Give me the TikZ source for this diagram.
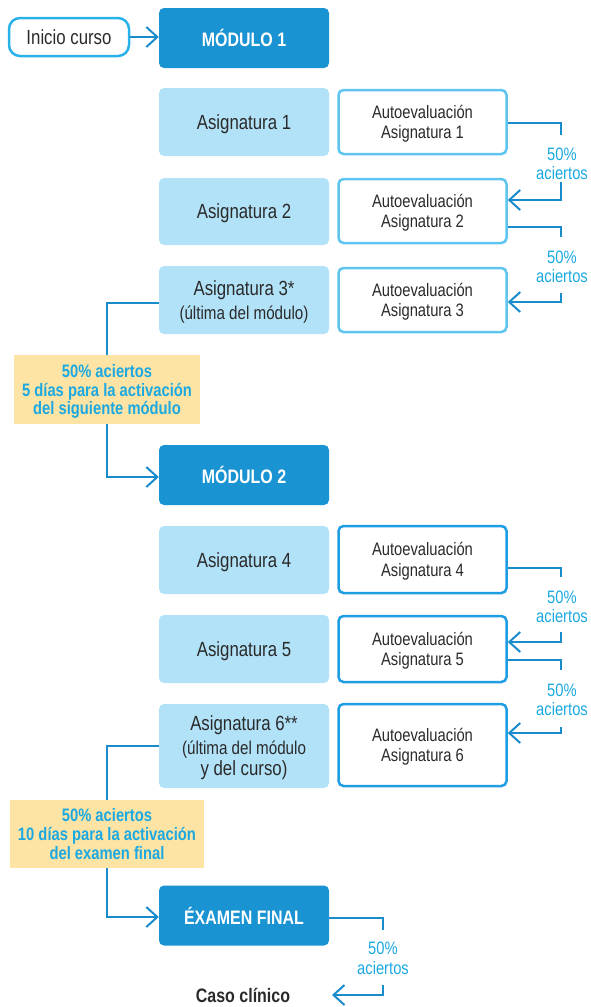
\documentclass[tikz,border=0pt]{standalone}
\usepackage{fontspec}
\setmainfont{Liberation Sans}[FakeStretch=0.82]
\usetikzlibrary{arrows.meta,calc}
\definecolor{modblue}{HTML}{1A93D3}
\definecolor{lightfill}{HTML}{B2E2F8}
\definecolor{lightedge}{HTML}{5EC5F0}
\definecolor{midedge}{HTML}{1E9DE2}
\definecolor{startedge}{HTML}{29B2EA}
\definecolor{linkblue}{HTML}{1A8BCB}
\definecolor{cyantext}{HTML}{1CA9E2}
\definecolor{yellowfill}{HTML}{FDE3A4}
\definecolor{darktext}{HTML}{2A2A2A}
\newcommand\fsz[2]{\fontsize{#1}{#2}\selectfont}
\begin{document}
\begin{tikzpicture}[x=1pt,y=-1pt,
  modbox/.style={fill=modblue, rounded corners=5pt, minimum width=170pt, minimum height=60pt, inner sep=0pt, text=white, font=\fsz{19.5}{22}\bfseries},
  asig/.style={fill=lightfill, rounded corners=5pt, minimum width=170pt, inner sep=0pt, align=center, text depth=0pt, text=darktext, font=\fsz{20.5}{24}},
  evalbox/.style={draw=#1, line width=2.5pt, rounded corners=5pt, fill=white, minimum width=168pt, inner sep=0pt, align=center, text depth=0pt, text=darktext, font=\fsz{18}{20.5}},
  note/.style={fill=yellowfill, inner sep=0pt, align=center, text depth=0pt, text=cyantext, font=\fsz{18}{18.8}\bfseries},
  pct/.style={text=cyantext, align=center, inner sep=0pt, font=\fsz{18}{19.5}},
  link/.style={draw=linkblue, line width=2pt},
  tip/.style={-{Straight Barb[length=11pt,width=20pt]}}
]
\useasboundingbox (0,0) rectangle (590,1007);

% ---- Module 1
\node[draw=startedge, line width=2.5pt, rounded corners=11pt, minimum width=120pt, minimum height=38pt, inner sep=0pt, text=darktext, font=\fsz{20.5}{24}] (inicio) at (69,37) {Inicio curso};
\node[modbox] (m1) at (244,38) {MÓDULO 1};

\node[asig, minimum height=68pt] (a1) at (244,122) {Asignatura 1};
\node[asig, minimum height=67pt] (a2) at (244,211.5) {Asignatura 2};
\node[asig, minimum height=68pt] (a3) at (244,300) {Asignatura 3*\\[0pt]\fsz{18.5}{20}(última del módulo)};

\node[evalbox=lightedge, minimum height=64pt] (e1) at (422.5,122) {Autoevaluación\\Asignatura 1};
\node[evalbox=lightedge, minimum height=64pt] (e2) at (422.5,211) {Autoevaluación\\Asignatura 2};
\node[evalbox=lightedge, minimum height=64pt] (e3) at (422.5,300) {Autoevaluación\\Asignatura 3};

\node[note, minimum width=186pt, minimum height=69pt] (y1) at (107,389.5) {50\% aciertos\\5 días para la activación\\del siguiente módulo};

% ---- Module 2
\node[modbox] (m2) at (244,475) {MÓDULO 2};

\node[asig, minimum height=68pt] (a4) at (244,560) {Asignatura 4};
\node[asig, minimum height=68pt] (a5) at (244,649) {Asignatura 5};
\node[asig, minimum height=84pt] (a6) at (244,746) {Asignatura 6**\\[0pt]\fsz{18.5}{18}(última del módulo\\[-3pt]y del curso)};

\node[evalbox=midedge, minimum height=67pt] (e4) at (422.5,559.5) {Autoevaluación\\Asignatura 4};
\node[evalbox=midedge, minimum height=66pt] (e5) at (422.5,649) {Autoevaluación\\Asignatura 5};
\node[evalbox=midedge, minimum height=82pt] (e6) at (422.5,745) {Autoevaluación\\Asignatura 6};

\node[note, minimum width=194pt, minimum height=68pt] (y2) at (107,834) {50\% aciertos\\10 días para la activación\\del examen final};

\node[modbox] (ex) at (244,915.5) {ÉXAMEN FINAL};
\node[inner sep=0pt, text=darktext, font=\fsz{19.5}{22}\bfseries] (caso) at (243,995.5) {Caso clínico};

% ---- left connectors
\draw[link,tip] (inicio.east) -- (inicio.east -| m1.west);
\draw[link] ($(a3.west)+(0,3)$) -| (y1.north);
\draw[link,tip] (y1.south) |- ($(m2.west)+(0,2)$);
\draw[link] (a6.west) -| (y2.north);
\draw[link,tip] (y2.south) |- ($(ex.west)+(0,1.5)$);

% ---- right connectors, module 1
\coordinate (r1a) at (561,135);
\coordinate (r1b) at (561,182);
\coordinate (r1c) at (561,200);
\draw[link] ($(e1.east)+(0,1)$) -| (r1a);
\node[pct] (p1) at (562,164) {50\%\\aciertos};
\draw[link,tip] (r1b) -- (r1c) -- (e2.east |- r1c);

\coordinate (r2a) at (561,237);
\coordinate (r2b) at (561,293);
\coordinate (r2c) at (561,302);
\draw[link] ($(e2.east)+(0,16)$) -| (r2a);
\node[pct] (p2) at (562,267) {50\%\\aciertos};
\draw[link,tip] (r2b) -- (r2c) -- (e3.east |- r2c);

% ---- right connectors, module 2
\coordinate (r3a) at (561,577);
\coordinate (r3b) at (561,632);
\coordinate (r3c) at (561,642);
\draw[link] ($(e4.east)+(0,8.5)$) -| (r3a);
\node[pct] (p3) at (562,607) {50\%\\aciertos};
\draw[link,tip] (r3b) -- (r3c) -- (e5.east |- r3c);

\coordinate (r4a) at (561,670);
\coordinate (r4b) at (561,727);
\coordinate (r4c) at (561,733);
\draw[link] ($(e5.east)+(0,11)$) -| (r4a);
\node[pct] (p4) at (562,700) {50\%\\aciertos};
\draw[link,tip] (r4b) -- (r4c) -- (e6.east |- r4c);

% ---- exam connector
\coordinate (r5a) at (383,930);
\coordinate (r5b) at (383,985);
\coordinate (r5c) at (383,995);
\coordinate (r5d) at (332,995);
\draw[link] ($(ex.east)+(0,2.5)$) -| (r5a);
\node[pct] (p5) at (383,958.5) {50\%\\aciertos};
\draw[link,tip] (r5b) -- (r5c) -- (r5d);
\end{tikzpicture}
\end{document}
